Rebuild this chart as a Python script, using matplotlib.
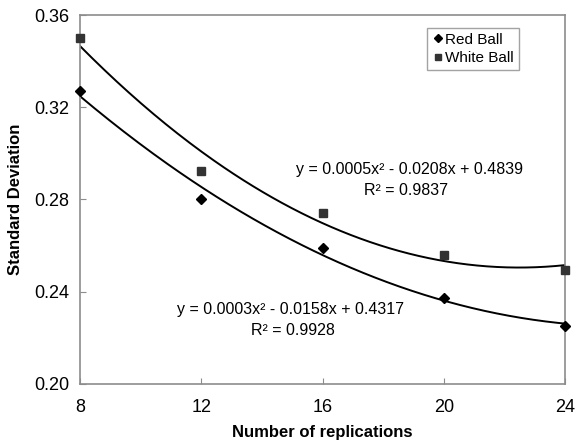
import numpy as np
import matplotlib
matplotlib.use("Agg")
import matplotlib.pyplot as plt

plt.rcParams['font.family'] = ['Liberation Sans', 'DejaVu Sans']

# data
replications = [8, 12, 16, 20, 24]
red_ball = [0.327, 0.280, 0.259, 0.2375, 0.225]
white_ball = [0.350, 0.2925, 0.274, 0.256, 0.2495]

red_eq = "y = 0.0003x² - 0.0158x + 0.4317"
red_r2 = "R² = 0.9928"
white_eq = "y = 0.0005x² - 0.0208x + 0.4839"
white_r2 = "R² = 0.9837"

frame_col = '#8c8c8c'

fig = plt.figure(figsize=(5.77, 4.44), dpi=100)
ax = fig.add_axes([80 / 577, 1 - 384 / 444, 485 / 577, 369 / 444])

# second order polynomial trendlines
xs = np.linspace(8, 24, 200)
for ys in (red_ball, white_ball):
    coef = np.polyfit(replications, ys, 2)
    ax.plot(xs, np.polyval(coef, xs), color='black', lw=1.4, zorder=2)

ax.plot(replications, red_ball, linestyle='none', marker='D', ms=5,
        color='black', label='Red Ball', zorder=3, clip_on=False)
ax.plot(replications, white_ball, linestyle='none', marker='s', ms=5.5,
        color='#333333', label='White Ball', zorder=3, clip_on=False)

ax.set_xlim(8, 24)
ax.set_ylim(0.20, 0.36)
ax.set_xticks([8, 12, 16, 20, 24])
ax.set_yticks([0.20, 0.24, 0.28, 0.32, 0.36])
ax.set_yticklabels([f"{v:.2f}" for v in [0.20, 0.24, 0.28, 0.32, 0.36]])
ax.tick_params(direction='in', length=4, color=frame_col, labelsize=13, pad=8)
ax.tick_params(axis='x', pad=11)
for sp in ax.spines.values():
    sp.set_color(frame_col)
    sp.set_linewidth(1.2)

ax.set_xlabel("Number of replications", fontsize=12, fontweight='bold', labelpad=6)
ax.set_ylabel("Standard Deviation", fontsize=12, fontweight='bold', labelpad=8)

# trendline equations
ax.text(18.87, 0.2928, white_eq, fontsize=11.5, ha='center', va='center')
ax.text(18.75, 0.2837, white_r2, fontsize=11.5, ha='center', va='center')
ax.text(14.93, 0.2325, red_eq, fontsize=11.5, ha='center', va='center')
ax.text(15.03, 0.2234, red_r2, fontsize=11.5, ha='center', va='center')

leg = ax.legend(loc='upper right', bbox_to_anchor=(0.92, 0.985), fontsize=11,
                frameon=True, fancybox=False, handletextpad=0.1,
                handlelength=0.8, borderpad=0.3, labelspacing=0.3, markerscale=0.8)
leg.get_frame().set_edgecolor(frame_col)
leg.get_frame().set_linewidth(1.0)

fig.savefig("out.png", dpi=100)
